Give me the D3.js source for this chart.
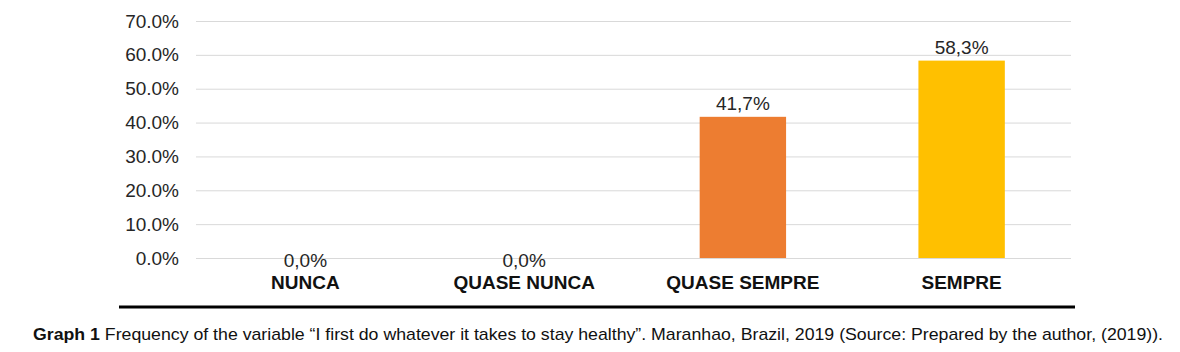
<!DOCTYPE html>
<html>
<head>
<meta charset="utf-8">
<script src="https://cdn.jsdelivr.net/npm/d3@7"></script>
<style>
  body { margin: 0; background: #fff; }
  svg { display: block; }
</style>
</head>
<body>
<div id="chart"></div>
<script>
// data
var categories = ["NUNCA", "QUASE NUNCA", "QUASE SEMPRE", "SEMPRE"];
var values = [0.0, 0.0, 41.7, 58.3];
var barColors = ["#4472C4", "#A5A5A5", "#ED7D31", "#FFC000"];
var yTicks = [0, 10, 20, 30, 40, 50, 60, 70];
var captionBold = "Graph 1";
var captionText = " Frequency of the variable \u201cI first do whatever it takes to stay healthy\u201d. Maranhao, Brazil, 2019 (Source: Prepared by the author, (2019)).";

var W = 1180, H = 352;
var margin = {top: 21, right: 109, bottom: 94, left: 196},
    width = W - margin.left - margin.right,
    height = H - margin.top - margin.bottom;

var svg = d3.select("#chart")
  .append("svg")
    .attr("width", W)
    .attr("height", H);

var g = svg.append("g")
    .attr("transform", "translate(" + margin.left + "," + margin.top + ")");

var x = d3.scaleBand()
  .domain(categories)
  .range([0, width])
  .paddingInner(0.605)
  .paddingOuter(0.3025);

var y = d3.scaleLinear()
  .domain([0, 70])
  .range([height, 0]);

// gridlines + tick labels
var yAxis = g.append("g")
  .call(d3.axisLeft(y)
    .tickValues(yTicks)
    .tickSize(-width)
    .tickPadding(17)
    .tickFormat(function(d) { return d.toFixed(1) + "%"; }));
yAxis.select(".domain").remove();
yAxis.selectAll(".tick line").attr("stroke", "#d9d9d9").attr("stroke-width", 1);
yAxis.selectAll(".tick text")
  .attr("font-family", "Liberation Sans, Arial, sans-serif")
  .attr("font-size", 19)
  .attr("fill", "#262626");

// bars
g.selectAll("rect.bar")
  .data(values)
  .enter()
  .append("rect")
    .attr("class", "bar")
    .attr("x", function(d, i) { return x(categories[i]); })
    .attr("y", function(d) { return y(d); })
    .attr("width", x.bandwidth())
    .attr("height", function(d) { return height - y(d); })
    .attr("fill", function(d, i) { return barColors[i]; });

// value labels
g.selectAll("text.val")
  .data(values)
  .enter()
  .append("text")
    .attr("class", "val")
    .attr("x", function(d, i) { return x(categories[i]) + x.bandwidth() / 2; })
    .attr("y", function(d) { return d > 0 ? y(d) - 7 : y(0) + 9; })
    .attr("text-anchor", "middle")
    .attr("font-family", "Liberation Sans, Arial, sans-serif")
    .attr("font-size", 19)
    .attr("fill", "#262626")
    .text(function(d) { return d.toFixed(1).replace(".", ",") + "%"; });

// category labels
var xAxis = g.append("g")
  .attr("transform", "translate(0," + height + ")")
  .call(d3.axisBottom(x).tickSize(0).tickPadding(0));
xAxis.select(".domain").remove();
xAxis.selectAll(".tick text")
  .attr("dy", null)
  .attr("y", 31)
  .attr("font-family", "Liberation Sans, Arial, sans-serif")
  .attr("font-size", 19)
  .attr("font-weight", "bold")
  .attr("fill", "#111");

// rule under the chart
svg.append("line")
  .attr("x1", 119).attr("x2", 1075)
  .attr("y1", 307).attr("y2", 307)
  .attr("stroke", "#000")
  .attr("stroke-width", 3);

// caption
var cap = svg.append("text")
  .attr("x", 33)
  .attr("y", 340)
  .attr("font-family", "Liberation Sans Narrow, Arial Narrow, Liberation Sans, sans-serif")
  .attr("font-size", 17)
  .attr("fill", "#111")
  .attr("textLength", 1130)
  .attr("lengthAdjust", "spacingAndGlyphs");
cap.append("tspan").attr("font-weight", "bold").text(captionBold);
cap.append("tspan").text(captionText);
</script>
</body>
</html>
